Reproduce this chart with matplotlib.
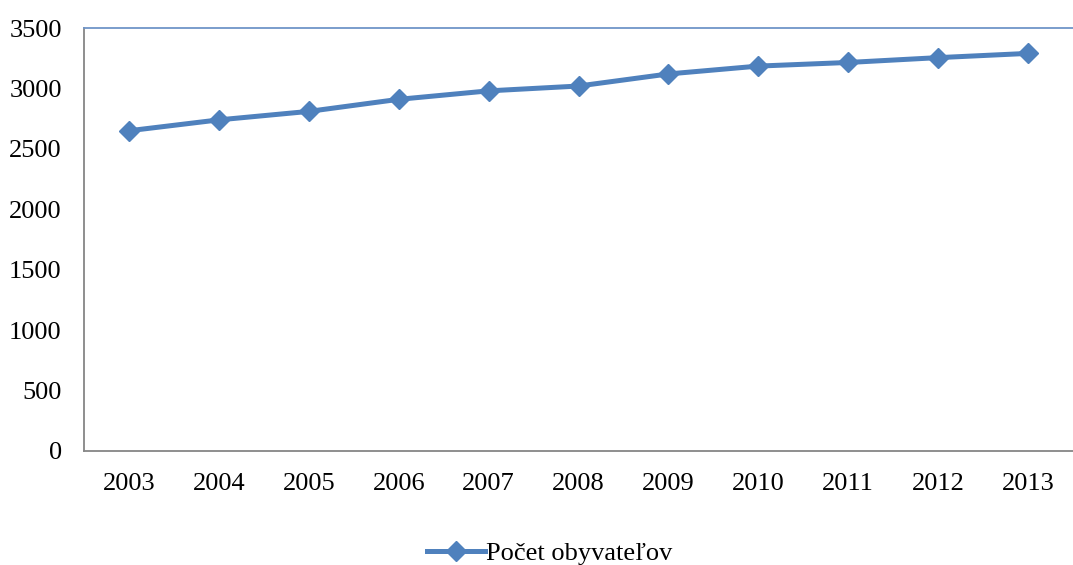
import matplotlib
matplotlib.use('Agg')
import matplotlib.pyplot as plt

# data
years = ["2003", "2004", "2005", "2006", "2007", "2008", "2009", "2010", "2011", "2012", "2013"]
population = [2650, 2740, 2810, 2910, 2980, 3020, 3120, 3185, 3215, 3255, 3290]
series_name = "Počet obyvateľov"

plt.rcParams['font.family'] = ['Liberation Serif', 'DejaVu Serif']

fig = plt.figure(figsize=(10.73, 5.65), dpi=100)
ax = fig.add_axes([0.0783, 0.2018, 0.9217, 0.7486])

x = list(range(len(years)))
ax.plot(x, population, color='#4F81BD', linewidth=3.6, marker='D',
        markersize=10.5, label=series_name)

ax.set_xlim(-0.5, len(years) - 0.5)
ax.set_ylim(0, 3500)
ax.set_yticks(range(0, 3501, 500))
ax.set_xticks(x)
ax.set_xticklabels(years)
ax.tick_params(axis='both', length=0, labelsize=19)
ax.tick_params(axis='y', pad=16)
ax.tick_params(axis='x', pad=16)

for side in ['left', 'bottom']:
    ax.spines[side].set_color('#868686')
    ax.spines[side].set_linewidth(1.3)
ax.spines['top'].set_color('#6F95C8')
ax.spines['top'].set_linewidth(1.3)
ax.spines['right'].set_visible(False)

fig.legend(loc='center', bbox_to_anchor=(0.512, 0.02), frameon=False,
           fontsize=19, handlelength=2.2, handletextpad=0.05)

fig.savefig("out.png", dpi=100)
